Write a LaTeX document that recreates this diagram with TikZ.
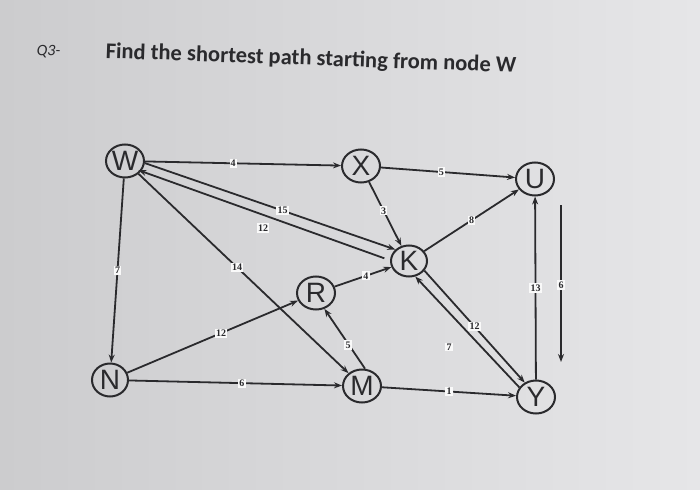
\documentclass[tikz,border=0pt]{standalone}
\usepackage{fontspec}
\setmainfont{Carlito}
\newfontfamily\nodefont{Liberation Sans}
\newfontfamily\numfont{Liberation Serif}
\usetikzlibrary{arrows.meta,shapes.geometric}
\definecolor{paperA}{RGB}{204,204,206}
\definecolor{paperB}{RGB}{230,230,232}
\definecolor{ink}{RGB}{42,42,45}
\begin{document}
\begin{tikzpicture}[x=1pt,y=-1pt,
  vtx/.style={ellipse,draw=ink,line width=2pt,minimum width=38pt,minimum height=33pt,inner sep=0pt,font=\nodefont\fontsize{28}{28}\selectfont,text=ink},
  edge/.style={draw=ink,line width=1.8pt,-{Stealth[length=8pt,width=6pt]}},
  lbl/.style={fill=white!75!paperB,inner sep=1.2pt,font=\numfont\bfseries\fontsize{10}{10}\selectfont,text=ink}]
\shade[left color=paperA,right color=paperB] (0,0) rectangle (700,489);
\useasboundingbox (0,0) rectangle (700,489);
\node[anchor=base west,font=\itshape\fontsize{16}{16}\selectfont,text=ink,rotate=-2] (q) at (33,55) {Q3-};
\node[anchor=base west,font=\fontsize{22.5}{22.5}\selectfont\bfseries,text=ink,rotate=-2] (title) at (102,58) {Find the shortest path starting from node W};

\node[vtx] (W) at (125,161) {W};
\node[vtx] (X) at (361,166) {X};
\node[vtx] (U) at (535,179) {U};
\node[vtx,minimum width=36pt,minimum height=31pt] (K) at (409,261) {K};
\node[vtx] (R) at (316,293) {R};
\node[vtx,minimum width=36pt] (N) at (110,380) {N};
\node[vtx] (M) at (362,386) {M};
\node[vtx] (Y) at (536,397) {Y};
\coordinate (ut) at (561,205);
\coordinate (yb) at (561,362);

\draw[edge] (W) -- (X) node[lbl,pos=0.45] {4};
\draw[edge] (X) -- (U) node[lbl,pos=0.45] {5};
\draw[edge] (X) -- (K) node[lbl,pos=0.45] {3};
\draw[edge] (K) -- (U) node[lbl,pos=0.5] {8};
\draw[edge] (W.-6) -- (K.140) node[lbl,pos=0.55] {15};
\draw[edge,shorten <=6pt,shorten >=-3pt] (K.178) -- (W.-32) node[lbl] at (263,228) {12};
\draw[edge] (W) -- (N) node[lbl,pos=0.5] {7};
\draw[edge] (W) -- (M) node[lbl,pos=0.47] {14};
\draw[edge] (N) -- (R) node[lbl,pos=0.55] {12};
\draw[edge] (N) -- (M) node[lbl,pos=0.53] {6};
\draw[edge] (R) -- (K) node[lbl,pos=0.55] {4};
\draw[edge] (M.80) -- (R.-62) node[lbl] at (348,345) {5};
\draw[edge] (M) -- (Y) node[lbl,pos=0.5] {1};
\draw[edge] (K.-32) -- (Y.128) node[lbl,pos=0.5] {12};
\draw[edge] (Y.150) -- (K.-68) node[lbl] at (449,347) {7};
\draw[edge] (Y) -- (U) node[lbl,pos=0.5] {13};
\draw[edge] (ut) -- (yb) node[lbl] at (561,285) {6};
\end{tikzpicture}
\end{document}
